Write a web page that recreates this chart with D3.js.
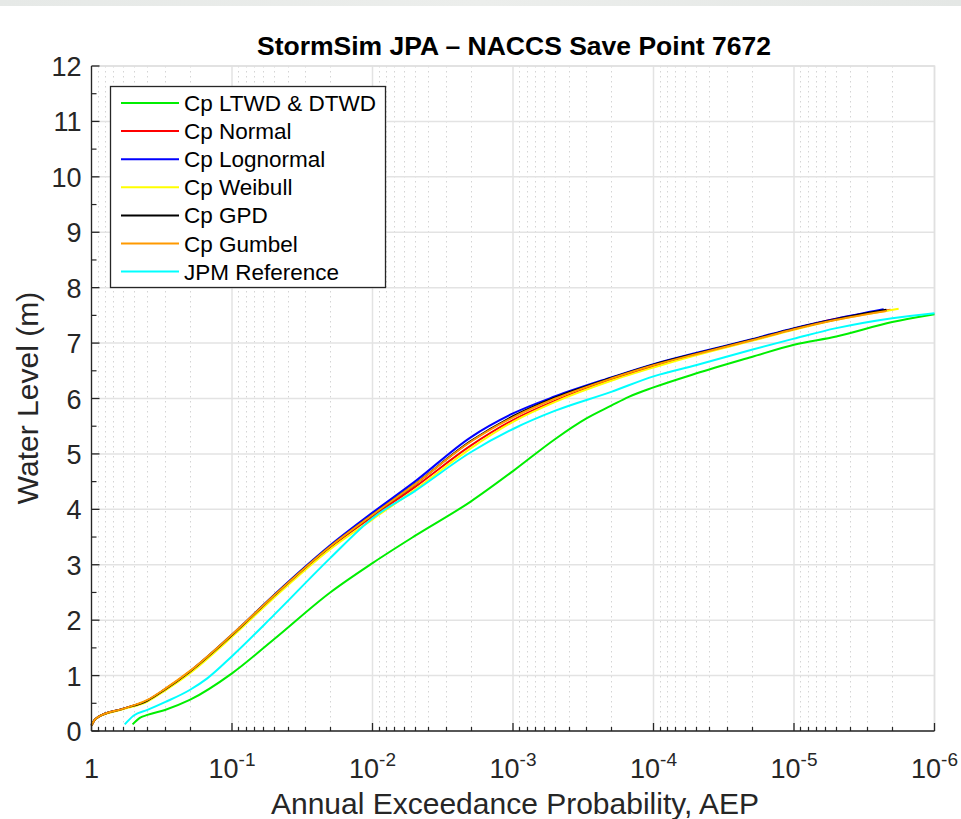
<!DOCTYPE html>
<html>
<head>
<meta charset="utf-8">
<script src="https://cdn.jsdelivr.net/npm/d3@7"></script>
<style>
  body { margin: 0; background: #fff; }
  svg { display: block; font-family: "Liberation Sans", Arial, sans-serif; }
</style>
</head>
<body>
<div id="chart"></div>
<script>
// AEP grid shared by the Cp curves
var aepCp = [1, 0.95, 0.9, 0.6, 0.4, 0.3, 0.2, 0.1, 0.05, 0.02, 0.01, 0.005, 0.002, 0.001,
  5e-4, 2e-4, 1e-4, 5e-5, 2e-5, 1e-5, 5e-6];
// last point of each Cp curve (order: Normal, Lognormal, Weibull, GPD, Gumbel)
var cpTailAep = [2.05e-6, 2.3e-6, 1.8e-6, 2.2e-6, 2.2e-6];
var cpTailLevel = [7.60, 7.61, 7.62, 7.60, 7.58];

var levelNormal = [0.10, 0.20, 0.25, 0.40, 0.55, 0.75, 1.07, 1.73, 2.44, 3.31, 3.87, 4.40, 5.15, 5.61,
  5.96, 6.34, 6.58, 6.80, 7.05, 7.26, 7.44];
var levelLognormal = [0.10, 0.20, 0.25, 0.40, 0.55, 0.75, 1.07, 1.74, 2.46, 3.35, 3.94, 4.50, 5.30, 5.73,
  6.04, 6.38, 6.62, 6.82, 7.07, 7.27, 7.44];
var levelWeibull = [0.10, 0.20, 0.25, 0.39, 0.53, 0.73, 1.04, 1.70, 2.41, 3.28, 3.82, 4.35, 5.10, 5.58,
  5.94, 6.32, 6.56, 6.78, 7.04, 7.24, 7.42];
var levelGPD = [0.10, 0.20, 0.25, 0.40, 0.55, 0.75, 1.07, 1.73, 2.45, 3.33, 3.90, 4.45, 5.23, 5.68,
  6.02, 6.37, 6.61, 6.81, 7.06, 7.26, 7.43];
var levelGumbel = [0.10, 0.20, 0.25, 0.40, 0.56, 0.76, 1.08, 1.74, 2.45, 3.33, 3.90, 4.45, 5.22, 5.66,
  6.00, 6.36, 6.60, 6.80, 7.05, 7.25, 7.42];

var aepLtwd = [0.51, 0.45, 0.4, 0.3, 0.2, 0.1, 0.05, 0.02, 0.01, 0.005, 0.002, 0.001, 5e-4, 3e-4,
  2e-4, 1.5e-4, 1e-4, 5e-5, 2e-5, 1e-5, 5e-6, 2e-6, 1e-6];
var levelLtwd = [0.12, 0.24, 0.29, 0.38, 0.56, 1.04, 1.66, 2.50, 3.03, 3.52, 4.14, 4.69, 5.27, 5.64,
  5.87, 6.03, 6.20, 6.45, 6.75, 6.97, 7.12, 7.38, 7.52];

var aepJpm = [0.58, 0.5, 0.4, 0.3, 0.2, 0.15, 0.1, 0.05, 0.02, 0.01, 0.005, 0.002, 0.001, 5e-4,
  2e-4, 1e-4, 5e-5, 2e-5, 1e-5, 5e-6, 2e-6, 1e-6];
var levelJpm = [0.12, 0.28, 0.38, 0.52, 0.74, 0.95, 1.35, 2.10, 3.12, 3.84, 4.33, 5.03, 5.45, 5.78,
  6.12, 6.40, 6.60, 6.88, 7.08, 7.27, 7.45, 7.54];

var names = ["Cp LTWD & DTWD", "Cp Normal", "Cp Lognormal", "Cp Weibull", "Cp GPD", "Cp Gumbel", "JPM Reference"];
var colors = ["#00ee00", "#ff0000", "#0000ff", "#ffff00", "#000000", "#ff9900", "#00ffff"];

var xTicks = [1, 1e-1, 1e-2, 1e-3, 1e-4, 1e-5, 1e-6];
var yTicks = d3.range(0, 13);

const w = 961;
const h = 819;
const pLeft = 91.5, pRight = 934.5, pTop = 66, pBottom = 731;
const ink = "#262626";

function pts(aep, lev) {
  return aep.map(function (a, i) { return [a, lev[i]]; });
}
function withTail(lev, k) {
  return pts(aepCp.concat([cpTailAep[k]]), lev.concat([cpTailLevel[k]]));
}

var series = [
  pts(aepLtwd, levelLtwd),
  withTail(levelNormal, 0),
  withTail(levelLognormal, 1),
  withTail(levelWeibull, 2),
  withTail(levelGPD, 3),
  withTail(levelGumbel, 4),
  pts(aepJpm, levelJpm)
];

var svg = d3.select("#chart").append("svg").attr("width", w).attr("height", h);

// grey strip at the very top of the screenshot
var grad = svg.append("defs").append("linearGradient").attr("id", "strip");
grad.append("stop").attr("offset", "0%").attr("stop-color", "#e6e9e7");
grad.append("stop").attr("offset", "50%").attr("stop-color", "#eceeec");
grad.append("stop").attr("offset", "100%").attr("stop-color", "#e4e7e5");
svg.append("rect").attr("x", 0).attr("y", 0).attr("width", w).attr("height", 6).attr("fill", "url(#strip)");

var x = d3.scaleLog().domain([1, 1e-6]).range([pLeft, pRight]);
var y = d3.scaleLinear().domain([0, 12]).range([pBottom, pTop]);

// minor x values 2..9 per decade
var xMinor = [];
for (var e = 0; e > -6; e--) {
  for (var m = 2; m <= 9; m++) xMinor.push(m * Math.pow(10, e - 1));
}

var grid = svg.append("g");
grid.selectAll(".minor").data(xMinor).enter().append("line")
  .attr("x1", function (d) { return Math.round(x(d)) + 0.5; })
  .attr("x2", function (d) { return Math.round(x(d)) + 0.5; })
  .attr("y1", pTop).attr("y2", pBottom)
  .attr("stroke", "#d4d4d4").attr("stroke-dasharray", "1.5,3.5").attr("stroke-width", 1);
grid.selectAll(".vmaj").data(xTicks).enter().append("line")
  .attr("x1", function (d) { return x(d); }).attr("x2", function (d) { return x(d); })
  .attr("y1", pTop).attr("y2", pBottom)
  .attr("stroke", "#e3e3e3").attr("stroke-width", 1.5);
grid.selectAll(".hmaj").data(yTicks).enter().append("line")
  .attr("x1", pLeft).attr("x2", pRight)
  .attr("y1", function (d) { return y(d); }).attr("y2", function (d) { return y(d); })
  .attr("stroke", "#e3e3e3").attr("stroke-width", 1.5);

// box: light top/right edges
svg.append("path")
  .attr("d", "M" + pLeft + "," + pTop + "H" + pRight + "V" + pBottom)
  .attr("fill", "none").attr("stroke", "#e0e0e0").attr("stroke-width", 1.5);

// curves
var line = d3.line()
  .x(function (d) { return x(d[0]); })
  .y(function (d) { return y(d[1]); })
  .curve(d3.curveMonotoneX);

svg.append("g").selectAll("path").data(series).enter().append("path")
  .attr("d", line)
  .attr("fill", "none")
  .attr("stroke", function (d, i) { return colors[i]; })
  .attr("stroke-width", 2);

// axes
var xAxis = svg.append("g");
xAxis.append("line").attr("x1", pLeft).attr("x2", pRight).attr("y1", pBottom).attr("y2", pBottom)
  .attr("stroke", ink).attr("stroke-width", 1.3);
xAxis.selectAll(".tmaj").data(xTicks).enter().append("line")
  .attr("x1", function (d) { return x(d); }).attr("x2", function (d) { return x(d); })
  .attr("y1", pBottom).attr("y2", pBottom - 8).attr("stroke", ink).attr("stroke-width", 1.3);
xAxis.selectAll(".tmin").data(xMinor).enter().append("line")
  .attr("x1", function (d) { return Math.round(x(d)) + 0.5; })
  .attr("x2", function (d) { return Math.round(x(d)) + 0.5; })
  .attr("y1", pBottom).attr("y2", pBottom - 4).attr("stroke", ink).attr("stroke-width", 1.2);

var xl = xAxis.selectAll(".tl").data(xTicks).enter().append("text")
  .attr("x", function (d) { return x(d); })
  .attr("y", 778)
  .attr("text-anchor", "middle")
  .attr("font-size", 27)
  .attr("fill", ink);
xl.each(function (d) {
  var t = d3.select(this);
  var p = Math.round(Math.log10(d));
  if (p === 0) { t.text("1"); return; }
  t.append("tspan").text("10");
  t.append("tspan").attr("dy", -12).attr("font-size", 19).text(String(p));
});

var yAxis = svg.append("g");
yAxis.append("line").attr("x1", pLeft).attr("x2", pLeft).attr("y1", pTop).attr("y2", pBottom)
  .attr("stroke", ink).attr("stroke-width", 1.3);
yAxis.selectAll(".tmaj").data(yTicks).enter().append("line")
  .attr("x1", pLeft).attr("x2", pLeft + 8)
  .attr("y1", function (d) { return y(d); }).attr("y2", function (d) { return y(d); })
  .attr("stroke", ink).attr("stroke-width", 1.3);
yAxis.selectAll(".tmin").data(d3.range(0.5, 12, 1)).enter().append("line")
  .attr("x1", pLeft).attr("x2", pLeft + 5)
  .attr("y1", function (d) { return y(d); }).attr("y2", function (d) { return y(d); })
  .attr("stroke", ink).attr("stroke-width", 1.2);
yAxis.selectAll(".tl").data(yTicks).enter().append("text")
  .attr("x", pLeft - 10)
  .attr("y", function (d) { return y(d) + 10; })
  .attr("text-anchor", "end")
  .attr("font-size", 27)
  .attr("fill", ink)
  .text(function (d) { return d; });

// titles
svg.append("text").attr("x", 514).attr("y", 55).attr("text-anchor", "middle")
  .attr("font-size", 26.5).attr("font-weight", "bold").attr("fill", "#000")
  .text("StormSim JPA \u2013 NACCS Save Point 7672");
svg.append("text").attr("x", 515).attr("y", 814).attr("text-anchor", "middle")
  .attr("font-size", 30).attr("fill", ink)
  .text("Annual Exceedance Probability, AEP");
svg.append("text").attr("transform", "translate(38,398) rotate(-90)").attr("text-anchor", "middle")
  .attr("font-size", 30).attr("fill", ink)
  .text("Water Level (m)");

// legend
var lg = svg.append("g");
lg.append("rect").attr("x", 110.5).attr("y", 86.5).attr("width", 275).attr("height", 201)
  .attr("fill", "#fff").attr("stroke", ink).attr("stroke-width", 1.3);
var item = lg.selectAll(".it").data(names).enter().append("g")
  .attr("transform", function (d, i) { return "translate(0," + (103 + i * 28.1) + ")"; });
item.append("line").attr("x1", 121).attr("x2", 179).attr("y1", 0).attr("y2", 0)
  .attr("stroke", function (d, i) { return colors[i]; }).attr("stroke-width", 2);
item.append("text").attr("x", 184).attr("y", 8).attr("font-size", 22.5).attr("fill", "#000")
  .text(function (d) { return d; });
</script>
</body>
</html>
